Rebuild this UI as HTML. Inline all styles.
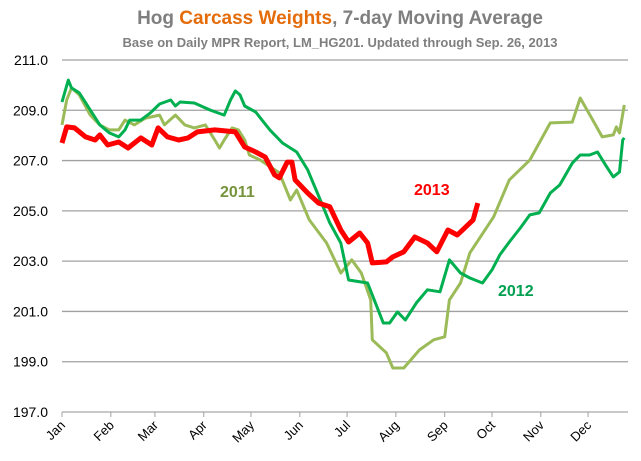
<!DOCTYPE html>
<html><head><meta charset="utf-8"><style>
body{margin:0;background:#fff;}
svg{display:block;font-family:"Liberation Sans",sans-serif;}
</style></head><body>
<svg id="chart" width="641" height="461" viewBox="0 0 641 461">
<text x="340" y="24" text-anchor="middle" font-size="19" font-weight="bold" fill="#7f7f7f">Hog <tspan fill="#e46c0a">Carcass Weights</tspan>, 7-day Moving Average</text>
<text x="340" y="47" text-anchor="middle" font-size="13" font-weight="bold" fill="#7f7f7f">Base on Daily MPR Report, LM_HG201.  Updated through Sep. 26, 2013</text>
<g id="grid"></g><g id="axes"></g><g id="series"></g>
<text x="220" y="197" font-size="16" font-weight="bold" fill="#77933c">2011</text>
<text x="414" y="195" font-size="16" font-weight="bold" fill="#ff0000">2013</text>
<text x="498" y="296" font-size="16" font-weight="bold" fill="#00a050">2012</text>
</svg>
<script>
const yTicks=[197,199,201,203,205,207,209,211];
const months=["Jan","Feb","Mar","Apr","May","Jun","Jul","Aug","Sep","Oct","Nov","Dec"];
const monthStart=[0,31,59,90,120,151,181,212,243,273,304,334];
const d2011=[0,3,6,11,18,24,30,36,40,46,53,62,65,72,78,84,91,97,100,103,108,112,116,119,126,138,145,149,157,168,177,184,190,196,197,206,210,217,227,236,243,246,253,259,274,284,297,303,310,324,329,337,343,350,352,354,357];
const v2011=[208.42,209.41,209.89,209.61,208.81,208.42,208.22,208.22,208.61,208.42,208.69,208.81,208.42,208.81,208.42,208.30,208.42,207.82,207.50,207.82,208.30,208.22,207.82,207.22,207.02,206.51,205.43,205.83,204.64,203.72,202.53,203.05,202.53,201.46,199.87,199.35,198.75,198.75,199.47,199.87,199.99,201.46,202.13,203.33,204.76,206.23,207.02,207.70,208.50,208.53,209.49,208.61,207.94,208.02,208.34,208.10,209.21];
const d2012=[0,4,6,11,18,24,30,36,40,43,50,56,62,69,72,75,84,94,103,107,110,113,116,123,127,132,140,149,156,164,170,177,182,194,200,204,208,213,218,225,232,240,246,253,259,267,273,278,284,291,297,303,310,316,324,329,335,340,345,350,354,356,357];
const v2012=[209.33,210.20,209.89,209.69,209.01,208.42,208.10,207.94,208.22,208.61,208.61,208.89,209.25,209.41,209.17,209.33,209.29,209.01,208.81,209.41,209.77,209.61,209.17,208.93,208.61,208.22,207.70,207.34,206.63,205.43,204.52,203.72,202.25,202.13,201.18,200.54,200.54,200.98,200.66,201.34,201.86,201.78,203.05,202.53,202.33,202.13,202.65,203.25,203.76,204.32,204.84,204.92,205.71,206.03,206.90,207.22,207.22,207.34,206.83,206.35,206.55,207.82,207.90];
const d2013=[0,3,8,15,21,24,29,36,42,50,57,61,67,74,80,86,97,110,116,123,129,135,138,143,146,148,156,163,170,177,182,189,194,197,206,210,217,224,232,238,245,251,261,264];
const v2013=[207.70,208.34,208.30,207.94,207.82,208.02,207.62,207.74,207.50,207.90,207.62,208.30,207.94,207.82,207.90,208.14,208.22,208.14,207.54,207.34,207.14,206.43,206.31,206.94,206.94,206.23,205.71,205.31,205.16,204.24,203.76,204.12,203.72,202.93,202.97,203.17,203.37,203.96,203.72,203.37,204.24,204.04,204.64,205.31];
const NS="http://www.w3.org/2000/svg";
const X0=62,X1=628,Y0=412,Y1=60;
const xs=d=>X0+d*1.575;
const ys=v=>Y0-(v-197)*(Y0-Y1)/14;
function mk(tag,attrs,parent){const e=document.createElementNS(NS,tag);for(const k in attrs)e.setAttribute(k,attrs[k]);parent.appendChild(e);return e;}
const grid=document.getElementById('grid'),axes=document.getElementById('axes'),ser=document.getElementById('series');
yTicks.forEach(t=>{
 const l=mk('line',{x1:X0,x2:X1,y1:ys(t),y2:ys(t),stroke:t===197?'#a6a6a6':'#a0a0a0','stroke-width':1.3},grid);
 
 
 const tx=mk('text',{x:48,y:ys(t)+5,'text-anchor':'end','font-size':14,fill:'#000'},axes);
 tx.textContent=t.toFixed(1);
 
 
});
months.forEach((m,i)=>{
 const x=xs(monthStart[i]);
 const tk=mk('line',{x1:x,x2:x,y1:Y0,y2:Y0+5,stroke:'#a0a0a0'},axes);
 
 
 const tx=mk('text',{x:x+4,y:Y0+14,'text-anchor':'end','font-size':13,fill:'#000',transform:`rotate(-45 ${x+4} ${Y0+14})`},axes);
 tx.textContent=m;
 
 
});
function line(d,v,color,w,name){
 const p=mk('polyline',{points:d.map((dd,i)=>xs(dd).toFixed(1)+','+ys(v[i]).toFixed(1)).join(' '),fill:'none',stroke:color,'stroke-width':w,'stroke-linejoin':'round'},ser);
 
 
}
line(d2011,v2011,'#9bbb59',3,'series-2011');
line(d2012,v2012,'#00b050',3,'series-2012');
line(d2013,v2013,'#ff0000',5,'series-2013');
</script>
</body></html>
